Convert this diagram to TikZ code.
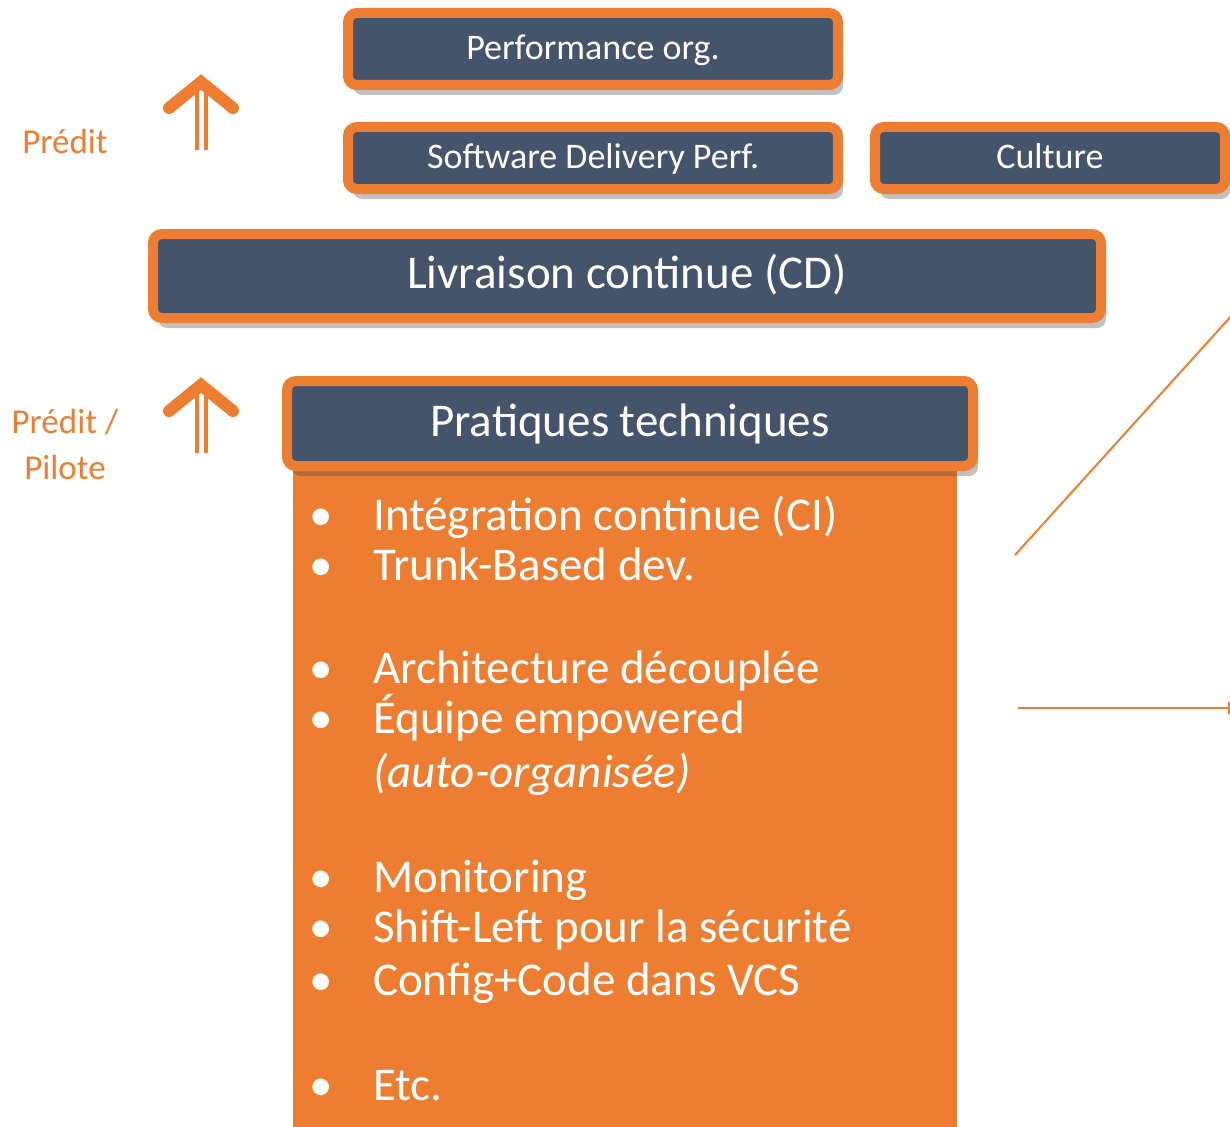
\documentclass[tikz,border=0pt]{standalone}
\usepackage{fontspec}
\setmainfont{Carlito}
\usetikzlibrary{arrows.meta,shadows,positioning}
\definecolor{slate}{HTML}{44546A}
\definecolor{dorange}{HTML}{ED7D31}
\tikzset{>=latex}
\tikzset{
  levelbox/.style={draw=dorange, line width=10pt, fill=slate, rounded corners=9pt, text=white,
    inner sep=0pt,
    drop shadow={shadow xshift=5pt, shadow yshift=-10pt, opacity=.35, fill=black!70}},
  smallbox/.style={levelbox, text height=27.5pt, text depth=7pt, font=\fontsize{36}{40}\selectfont},
  bigbox/.style={levelbox, text height=35pt, text depth=9.4pt, font=\fontsize{47}{52}\selectfont},
  practice/.style={text=white, inner sep=0pt, anchor=base west, font=\fontsize{47}{52}\selectfont},
  sidelabel/.style={text=dorange, align=center, font=\fontsize{35}{46}\selectfont},
  arrowhead/.style={draw=dorange, line width=12pt, line cap=round, line join=miter},
  arrowshaft/.style={draw=dorange, line width=4pt, double=white, double distance=5pt},
  thinline/.style={draw=dorange, line width=2pt}
}
\newcommand{\bul}{\makebox[64pt][l]{•}}

\begin{document}
\begin{tikzpicture}[x=1pt, y=-1pt]
		\useasboundingbox (0,0) rectangle (1230,1126);
		
		% orange panel behind the list
		\fill[dorange] (293,466) rectangle (957,1130);
		
		\node[smallbox, minimum width=490pt, minimum height=72pt] (perforg)  at (593,49)  {Performance org.};
		\node[smallbox, minimum width=490pt, minimum height=62pt] (delivery) at (593,158) {Software Delivery Perf.};
		\node[smallbox, minimum width=350pt, minimum height=62pt] (culture)  at (1050,158) {Culture};
		\node[bigbox,   minimum width=948pt, minimum height=84pt] (cd)       at (627,276) {Livraison continue (CD)};
		\node[bigbox,   minimum width=686pt, minimum height=85pt] (pratiques) at (630,423.5) {Pratiques techniques};
		
		\node[practice] (ci)       at (309,530)  {\bul Intégration continue (CI)};
		\node[practice] (trunk)    at (309,580)  {\bul Trunk-Based dev.};
		\node[practice] (archi)    at (309,683)  {\bul Architecture découplée};
		\node[practice] (equipe)   at (309,733)  {\bul Équipe empowered};
		\node[practice] (autoorg)  at (373,787)  {\textit{(auto-organisée)}};
		\node[practice] (monitor)  at (309,892)  {\bul Monitoring};
		\node[practice] (shift)    at (309,942)  {\bul Shift-Left pour la sécurité};
		\node[practice] (config)   at (309,995)  {\bul Config+Code dans VCS};
		\node[practice] (etc)      at (309,1100) {\bul Etc.};
		
		\node[sidelabel] (predit)  at (65,141) {Prédit};
		\node[sidelabel] (pilote)  at (65,444) {Prédit /\\Pilote};
		
		% arrows between levels
		\draw[arrowshaft] (201,90) -- (201,150);
		\draw[arrowhead]  (169,108) -- (201,82) -- (233,108);
		\draw[arrowshaft] (201,393) -- (201,453);
		\draw[arrowhead]  (169,411) -- (201,385) -- (233,411);
		
		\coordinate (diagstart) at (1015,555);
		\coordinate (diagend)   at (1234,313);
		\coordinate (arrowstart) at (1018,708);
		\coordinate (arrowend)   at (1240,708);
		\draw[thinline] (diagstart) -- (diagend);
		\draw[thinline, -{Latex[length=12pt,width=14pt]}] (arrowstart) -- (arrowend);
	\end{tikzpicture}
\end{document}
